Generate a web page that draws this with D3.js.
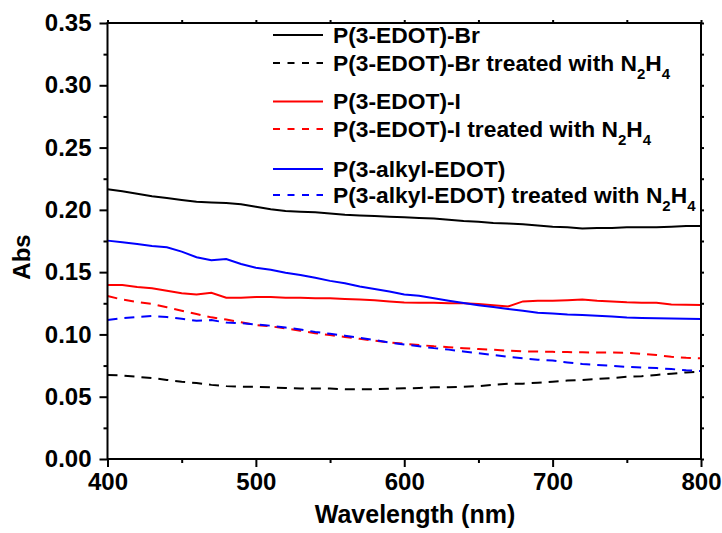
<!DOCTYPE html>
<html>
<head>
<meta charset="utf-8">
<script src="https://cdn.jsdelivr.net/npm/d3@7"></script>
<style>
  html, body { margin: 0; padding: 0; background: #fff; }
  svg text { font-family: "Liberation Sans", Arial, sans-serif; font-weight: bold; }
</style>
</head>
<body>
<svg id="chart" width="722" height="533"></svg>
<script>
// Wavelength grid (nm)
const wavelength = [400,410,420,430,440,450,460,470,480,490,500,510,520,530,540,550,560,570,580,590,
                    600,610,620,630,640,650,660,670,680,690,700,710,720,730,740,750,760,770,780,790,800];

// Absorbance of each film
const brFilm = [0.2165,0.215,0.213,0.211,0.2095,0.208,0.2065,0.206,0.2055,0.2045,0.2025,0.2005,0.199,0.1985,0.198,0.197,0.196,0.1955,0.195,0.1945,
                0.194,0.1935,0.193,0.192,0.191,0.1905,0.1895,0.189,0.1885,0.1875,0.1865,0.186,0.185,0.1855,0.1855,0.186,0.186,0.186,0.1865,0.187,0.187];
const brTreated = [0.0674,0.067,0.066,0.065,0.0635,0.062,0.061,0.0595,0.0585,0.058,0.058,0.0575,0.057,0.0565,0.0565,0.0565,0.056,0.056,0.056,0.0565,
                   0.0567,0.057,0.0575,0.0575,0.058,0.0585,0.0595,0.0605,0.0605,0.0612,0.062,0.063,0.0635,0.0642,0.065,0.066,0.0665,0.0675,0.0685,0.0695,0.070];
const iFilm = [0.1397,0.1397,0.138,0.137,0.135,0.133,0.132,0.1335,0.1295,0.1295,0.130,0.130,0.1295,0.1295,0.129,0.129,0.1285,0.128,0.1275,0.1265,
               0.1257,0.1255,0.1255,0.125,0.125,0.1245,0.1235,0.1225,0.1265,0.127,0.127,0.1275,0.128,0.127,0.1265,0.1258,0.1255,0.1255,0.124,0.1238,0.1236];
const iTreated = [0.1308,0.128,0.126,0.1245,0.1218,0.119,0.1164,0.1137,0.112,0.1098,0.1075,0.1065,0.1048,0.103,0.101,0.0995,0.098,0.0965,0.095,0.0935,
                  0.0925,0.0915,0.0905,0.0898,0.089,0.0883,0.0877,0.087,0.0865,0.0862,0.086,0.0858,0.0856,0.0855,0.0855,0.0853,0.0845,0.0835,0.082,0.0812,0.0808];
const alkylFilm = [0.1753,0.174,0.1725,0.171,0.170,0.1665,0.162,0.1595,0.1605,0.1565,0.1535,0.152,0.1495,0.1477,0.1455,0.143,0.141,0.1385,0.1365,0.1345,
                   0.132,0.131,0.129,0.127,0.1252,0.1235,0.122,0.1205,0.119,0.1175,0.1168,0.116,0.1155,0.115,0.1143,0.1135,0.1132,0.113,0.1127,0.1125,0.1124];
const alkylTreated = [0.1116,0.113,0.114,0.1148,0.114,0.1125,0.111,0.1115,0.1095,0.109,0.108,0.107,0.1055,0.104,0.102,0.1005,0.099,0.0972,0.0955,0.0935,
                      0.092,0.0905,0.089,0.0878,0.0863,0.085,0.0835,0.082,0.0808,0.0797,0.079,0.0775,0.0762,0.0755,0.0748,0.074,0.0735,0.073,0.0722,0.0712,0.0706];

const xTicks = [400, 500, 600, 700, 800];
const yTicks = [0.00, 0.05, 0.10, 0.15, 0.20, 0.25, 0.30, 0.35];

const series = [
  { name: "P(3-EDOT)-Br", sub: false, values: brFilm, color: "#000000", dashed: false },
  { name: "P(3-EDOT)-Br treated with ", sub: true, values: brTreated, color: "#000000", dashed: true },
  { name: "P(3-EDOT)-I", sub: false, values: iFilm, color: "#ff0000", dashed: false },
  { name: "P(3-EDOT)-I treated with ", sub: true, values: iTreated, color: "#ff0000", dashed: true },
  { name: "P(3-alkyl-EDOT)", sub: false, values: alkylFilm, color: "#0000ff", dashed: false },
  { name: "P(3-alkyl-EDOT) treated with ", sub: true, values: alkylTreated, color: "#0000ff", dashed: true }
];

const svg = d3.select("#chart");
const plotLeft = 107.5, plotRight = 701, plotTop = 23, plotBottom = 459;

const x = d3.scaleLinear().domain([400, 800]).range([plotLeft, plotRight]);
const y = d3.scaleLinear().domain([0, 0.35]).range([plotBottom, plotTop]);

// Curves
const line = d3.line().x((d, i) => x(wavelength[i])).y(d => y(d));
const plot = svg.append("g");
series.forEach(s => {
  plot.append("path")
    .datum(s.values)
    .attr("d", line)
    .attr("fill", "none")
    .attr("stroke", s.color)
    .attr("stroke-width", 2)
    .attr("stroke-dasharray", s.dashed ? "10,7" : null);
});

// Axes: major and minor ticks on all four sides
const minorX = d3.range(450, 800, 100);
const minorY = d3.range(0.025, 0.35, 0.05);

function styleAxis(g) {
  g.select(".domain").remove();
  g.selectAll("line").attr("stroke", "#000").attr("stroke-width", 2);
}

svg.append("g").attr("transform", `translate(0,${plotBottom})`)
  .call(d3.axisBottom(x).tickValues(xTicks).tickFormat(d3.format("d")).tickSize(8).tickPadding(6))
  .call(styleAxis)
  .call(g => g.selectAll("text").attr("font-size", 24).attr("fill", "#000"));
svg.append("g").attr("transform", `translate(0,${plotBottom})`)
  .call(d3.axisBottom(x).tickValues(minorX).tickFormat("").tickSize(4))
  .call(styleAxis);

svg.append("g").attr("transform", `translate(${plotLeft},0)`)
  .call(d3.axisLeft(y).tickValues(yTicks).tickFormat(d3.format(".2f")).tickSize(8).tickPadding(8))
  .call(styleAxis)
  .call(g => g.selectAll("text").attr("font-size", 24).attr("fill", "#000"));
svg.append("g").attr("transform", `translate(${plotLeft},0)`)
  .call(d3.axisLeft(y).tickValues(minorY).tickFormat("").tickSize(4))
  .call(styleAxis);

svg.append("g").attr("transform", `translate(0,${plotTop})`)
  .call(d3.axisTop(x).tickValues(xTicks.concat(minorX)).tickFormat("").tickSize(3))
  .call(styleAxis);
svg.append("g").attr("transform", `translate(${plotRight},0)`)
  .call(d3.axisRight(y).tickValues(yTicks.concat(minorY)).tickFormat("").tickSize(3))
  .call(styleAxis);

// Frame
svg.append("rect")
  .attr("x", plotLeft).attr("y", plotTop)
  .attr("width", plotRight - plotLeft).attr("height", plotBottom - plotTop)
  .attr("fill", "none").attr("stroke", "#000").attr("stroke-width", 2);

// Axis titles
svg.append("text")
  .attr("x", 415).attr("y", 523)
  .attr("text-anchor", "middle").attr("font-size", 25)
  .text("Wavelength (nm)");
svg.append("text")
  .attr("transform", "translate(30,257) rotate(-90)")
  .attr("text-anchor", "middle").attr("font-size", 24)
  .text("Abs");

// Legend
const legendRows = [35, 63, 101.5, 129, 169, 195];
const legend = svg.append("g");
series.forEach((s, i) => {
  const cy = legendRows[i];
  legend.append("line")
    .attr("x1", 273).attr("x2", 323).attr("y1", cy).attr("y2", cy)
    .attr("stroke", s.color).attr("stroke-width", 2)
    .attr("stroke-dasharray", s.dashed ? "7,7.5" : null);
  const t = legend.append("text")
    .attr("x", 333).attr("y", cy + 7.5)
    .attr("font-size", 22.8).attr("fill", "#000");
  t.append("tspan").text(s.name);
  if (s.sub) {
    t.append("tspan").text("N");
    t.append("tspan").attr("font-size", 15).attr("dy", 8).text("2");
    t.append("tspan").attr("dy", -8).text("H");
    t.append("tspan").attr("font-size", 15).attr("dy", 8).text("4");
  }
});
</script>
</body>
</html>
